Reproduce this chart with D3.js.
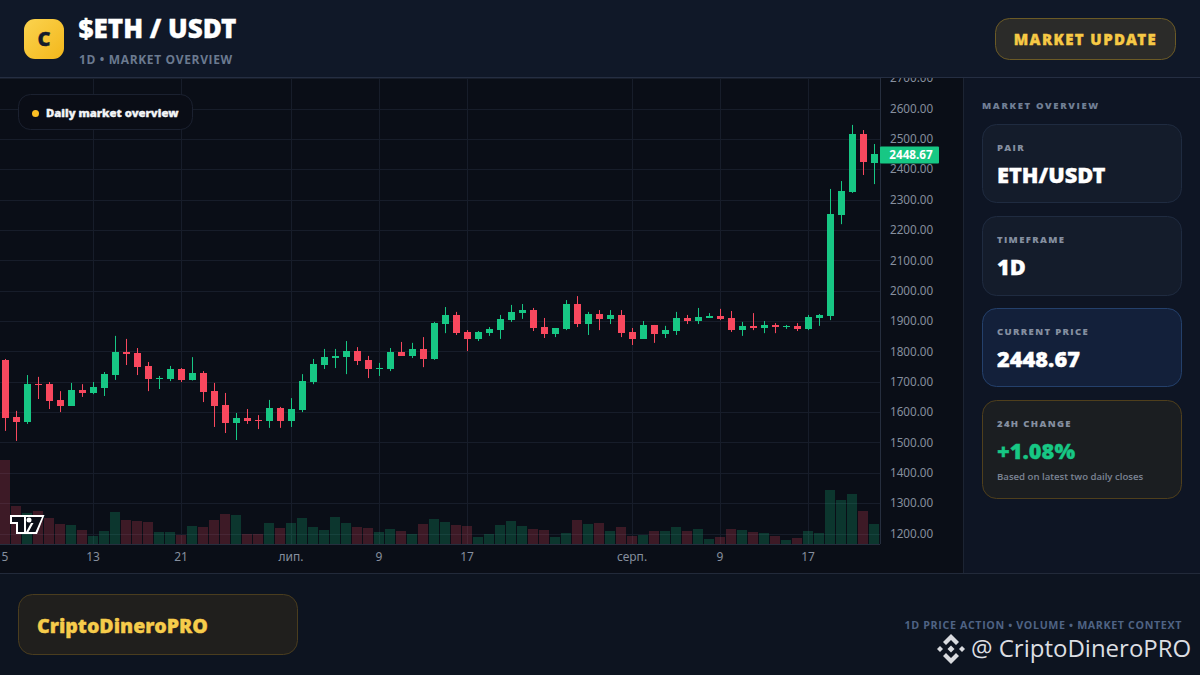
<!DOCTYPE html>
<html>
<head>
<meta charset="utf-8">
<style>
  html, body { margin: 0; padding: 0; background: #0a0e17; overflow: hidden; }
  svg { display: block; }
  text { font-family: "Open Sans", "Noto Sans", sans-serif; }
  .tick-label { font-family: "Noto Sans", sans-serif; }
  .heavy { font-family: "Noto Sans", "Open Sans", sans-serif; font-weight: 900; }
</style>
<script src="https://cdn.jsdelivr.net/npm/d3@7"></script>
</head>
<body>
<div class="viz"></div>
<script>
// Daily candles (5 June .. 23 Aug)
const opens = [1772,1584,1567,1692,1692,1640,1620,1673,1663,1679,1722,1798,1795,1752,1709,1709,1742,1706,1729,1669,1623,1564,1580,1574,1571,1613,1571,1607,1699,1755,1778,1781,1801,1772,1742,1742,1798,1785,1808,1775,1890,1920,1864,1841,1860,1870,1903,1926,1936,1880,1857,1874,1956,1890,1923,1907,1920,1864,1841,1887,1857,1867,1910,1900,1910,1916,1910,1870,1884,1877,1887,1880,1884,1874,1910,1916,2249,2325,2516,2420];
const highs = [1775,1604,1722,1716,1699,1669,1696,1692,1699,1732,1851,1841,1811,1765,1719,1752,1745,1781,1735,1696,1663,1597,1610,1590,1640,1617,1646,1725,1775,1808,1808,1834,1814,1785,1762,1811,1831,1828,1847,1897,1946,1930,1870,1867,1880,1920,1953,1956,1943,1910,1877,1969,1982,1930,1936,1936,1936,1877,1900,1887,1884,1930,1920,1943,1926,1940,1933,1897,1926,1900,1893,1887,1893,1920,1923,2335,2361,2546,2529,2483];
const lows = [1538,1505,1561,1643,1610,1600,1620,1650,1659,1653,1706,1755,1722,1669,1676,1702,1699,1704,1633,1551,1531,1508,1561,1544,1548,1548,1551,1600,1692,1742,1745,1725,1755,1712,1719,1735,1785,1778,1748,1772,1860,1854,1801,1834,1851,1841,1897,1907,1867,1844,1847,1870,1880,1854,1870,1890,1847,1821,1841,1828,1844,1854,1890,1890,1910,1903,1864,1851,1870,1860,1860,1874,1867,1870,1884,1903,2219,2322,2381,2351];
const closes = [1580,1567,1692,1689,1636,1620,1673,1663,1683,1725,1798,1791,1748,1709,1712,1742,1706,1729,1666,1620,1564,1580,1571,1571,1613,1571,1610,1702,1758,1781,1785,1801,1768,1742,1745,1798,1785,1808,1775,1893,1920,1860,1841,1864,1874,1907,1930,1936,1877,1857,1877,1956,1890,1923,1907,1920,1860,1841,1887,1857,1870,1910,1900,1913,1916,1907,1870,1884,1877,1887,1880,1884,1874,1913,1920,2252,2328,2516,2422.6,2448.67];
const volumes = [840,380,310,330,260,200,190,140,80,130,320,240,230,220,120,120,90,180,170,240,300,290,100,100,210,160,210,260,170,140,270,210,170,160,120,150,130,100,200,250,220,190,180,70,100,190,230,180,150,140,70,110,240,200,210,130,170,80,90,130,130,170,130,150,50,70,150,140,120,110,80,40,60,130,110,540,440,500,330,200];

const priceTicks = [1200,1300,1400,1500,1600,1700,1800,1900,2000,2100,2200,2300,2400,2500,2600,2700];
const dateTickIndex = [0,8,16,26,34,42,57,65,73];
const dateTickLabels = ["5","13","21","лип.","9","17","серп.","9","17"];

const pairName = "ETH/USDT";
const timeframe = "1D";
const lastPrice = closes[closes.length - 1];
const prevClose = closes[closes.length - 2];
const changePct = ((lastPrice - prevClose) / prevClose) * 100;

const colors = {
  up: "#17c784",
  down: "#f8485e",
  chartBg: "#0a0e17",
  grid: "#171d2a",
  axisLine: "#262e3e",
  axisText: "#868f9e",
  header: "#101828",
  footer: "#0d1420",
  muted: "#6b7a90",
  gold: "#f6c945",
};

const width = 1200;
const height = 675;
const plot = { left: 0, right: 880, top: 78, bottom: 544, axisBottom: 573 };

const svg = d3
  .select(".viz")
  .append("svg")
  .attr("width", width)
  .attr("height", height);

const defs = svg.append("defs");

const logoGrad = defs
  .append("linearGradient")
  .attr("id", "logoGrad")
  .attr("x1", 0)
  .attr("y1", 0)
  .attr("x2", 1)
  .attr("y2", 1);
logoGrad.append("stop").attr("offset", "0%").attr("stop-color", "#fbd34f");
logoGrad.append("stop").attr("offset", "100%").attr("stop-color", "#f3b71b");

defs
  .append("clipPath")
  .attr("id", "plotClip")
  .append("rect")
  .attr("x", 0)
  .attr("y", plot.top)
  .attr("width", plot.right)
  .attr("height", plot.bottom - plot.top);

// Backgrounds
svg.append("rect").attr("width", width).attr("height", height).attr("fill", colors.chartBg);

// Scales
const xScale = d3.scaleLinear().domain([0, 79]).range([5.5, 874.5]);
const yScale = d3.scaleLinear().domain([1200, 2600]).range([533.5, 108.5]);
const volumeScale = d3.scaleLinear().domain([0, 840]).range([plot.bottom, 460]);

const chart = svg.append("g").attr("clip-path", "url(#plotClip)");

// Grid lines
chart
  .selectAll(".h-grid")
  .data(priceTicks)
  .enter()
  .append("line")
  .attr("x1", plot.left)
  .attr("x2", plot.right)
  .attr("y1", (d) => Math.round(yScale(d)) + 0.5)
  .attr("y2", (d) => Math.round(yScale(d)) + 0.5)
  .attr("stroke", colors.grid);

chart
  .selectAll(".v-grid")
  .data(dateTickIndex.slice(1))
  .enter()
  .append("line")
  .attr("x1", (d) => Math.floor(xScale(d)) + 0.5)
  .attr("x2", (d) => Math.floor(xScale(d)) + 0.5)
  .attr("y1", plot.top)
  .attr("y2", plot.bottom)
  .attr("stroke", colors.grid);

// Volume bars
chart
  .selectAll(".volume")
  .data(volumes)
  .enter()
  .append("rect")
  .attr("x", (d, i) => Math.floor(xScale(i)) - 5)
  .attr("y", (d) => volumeScale(d))
  .attr("width", 10)
  .attr("height", (d) => plot.bottom - volumeScale(d))
  .attr("fill", (d, i) => (closes[i] >= opens[i] ? colors.up : colors.down))
  .attr("fill-opacity", 0.22);

// Candles
const candles = chart
  .selectAll(".candle")
  .data(closes)
  .enter()
  .append("g")
  .attr("fill", (d, i) => (d >= opens[i] ? colors.up : colors.down));

candles
  .append("rect")
  .attr("x", (d, i) => Math.floor(xScale(i)))
  .attr("y", (d, i) => yScale(highs[i]))
  .attr("width", 1)
  .attr("height", (d, i) => yScale(lows[i]) - yScale(highs[i]));

candles
  .append("rect")
  .attr("x", (d, i) => Math.floor(xScale(i)) - 3)
  .attr("y", (d, i) => Math.round(yScale(Math.max(d, opens[i]))))
  .attr("width", 7)
  .attr("height", (d, i) =>
    Math.max(1, Math.round(yScale(Math.min(d, opens[i]))) - Math.round(yScale(Math.max(d, opens[i]))))
  );

// Price axis
const yAxis = d3
  .axisRight(yScale)
  .tickValues(priceTicks)
  .tickSize(0)
  .tickPadding(9.5)
  .tickFormat(d3.format(".2f"));

const yAxisG = svg
  .append("g")
  .attr("transform", `translate(${plot.right}.5,0)`)
  .call(yAxis);
yAxisG.select(".domain").remove();
yAxisG
  .selectAll("text")
  .attr("class", "tick-label")
  .attr("fill", colors.axisText)
  .style("font-size", "11.7px");

svg
  .append("line")
  .attr("x1", plot.right + 0.5)
  .attr("x2", plot.right + 0.5)
  .attr("y1", plot.top)
  .attr("y2", plot.bottom)
  .attr("stroke", colors.axisLine);

// Date axis
const xAxis = d3
  .axisBottom(xScale)
  .tickValues(dateTickIndex)
  .tickSize(0)
  .tickPadding(8)
  .tickFormat((d) => dateTickLabels[dateTickIndex.indexOf(d)]);

const xAxisG = svg
  .append("g")
  .attr("transform", `translate(-1,${plot.bottom})`)
  .call(xAxis);
xAxisG.select(".domain").remove();
xAxisG
  .selectAll("text")
  .attr("class", "tick-label")
  .attr("fill", colors.axisText)
  .style("font-size", "12px");

svg
  .append("line")
  .attr("x1", 0)
  .attr("x2", plot.right)
  .attr("y1", plot.bottom + 0.5)
  .attr("y2", plot.bottom + 0.5)
  .attr("stroke", colors.axisLine);

// Last price tag
svg
  .append("rect")
  .attr("x", plot.right)
  .attr("y", yScale(lastPrice) - 8)
  .attr("width", 59)
  .attr("height", 17)
  .attr("rx", 1)
  .attr("fill", colors.up);

svg
  .append("text")
  .attr("class", "tick-label")
  .attr("x", plot.right + 31)
  .attr("y", yScale(lastPrice) + 4.5)
  .attr("text-anchor", "middle")
  .attr("fill", "#fff")
  .style("font-size", "11.7px")
  .style("font-weight", 700)
  .text(lastPrice.toFixed(2));

// Overview pill on the chart
svg
  .append("rect")
  .attr("x", 18.5)
  .attr("y", 94.5)
  .attr("width", 174)
  .attr("height", 35)
  .attr("rx", 12)
  .attr("fill", "#0a0d16")
  .attr("stroke", "#1b2130");

svg.append("circle").attr("cx", 35.5).attr("cy", 113.5).attr("r", 3.5).attr("fill", "#fbbf24");

svg
  .append("text")
  .attr("class", "heavy")
  .attr("x", 46)
  .attr("y", 117)
  .attr("fill", "#f2f4f7")
  .style("font-size", "11.3px")
  .text("Daily market overview");

// TradingView mark
svg.append("path").attr("fill", "#fff").attr("d", "M10,515H44.5L37,534H16V524H10Z");
svg.append("path").attr("fill", "#0a0e17").attr("d", "M12,517H42L35.5,532H18V522H12Z");
svg.append("path").attr("fill", "#fff").attr("d", "M26,532L31,523H33.5L28.5,532Z");
svg.append("path").attr("fill", "#fff").attr("d", "M24,517H26V532H24Z");
svg.append("circle").attr("cx", 29).attr("cy", 520).attr("r", 2.5).attr("fill", "#fff");

// Header
svg.append("rect").attr("width", width).attr("height", 77).attr("fill", colors.header);
svg
  .append("line")
  .attr("x1", 0)
  .attr("x2", width)
  .attr("y1", 77.5)
  .attr("y2", 77.5)
  .attr("stroke", "#252e42");

svg
  .append("rect")
  .attr("x", 24)
  .attr("y", 19)
  .attr("width", 40)
  .attr("height", 40)
  .attr("rx", 11)
  .attr("fill", "url(#logoGrad)");

svg
  .append("text")
  .attr("class", "heavy")
  .attr("x", 44)
  .attr("y", 46)
  .attr("text-anchor", "middle")
  .attr("fill", "#141b2b")
  .style("font-size", "20px")
  .text("C");

svg
  .append("text")
  .attr("class", "heavy")
  .attr("x", 78.5)
  .attr("y", 38)
  .attr("fill", "#fff")
  .style("font-size", "26px")
  .text(`$${pairName.replace("/", " / ")}`);

svg
  .append("text")
  .attr("x", 79)
  .attr("y", 64)
  .attr("fill", colors.muted)
  .style("font-size", "12px")
  .style("font-weight", 700)
  .style("letter-spacing", "0.65px")
  .text(`${timeframe} • MARKET OVERVIEW`);

svg
  .append("rect")
  .attr("x", 995.5)
  .attr("y", 18.5)
  .attr("width", 180)
  .attr("height", 41)
  .attr("rx", 14)
  .attr("fill", "#2b2b29")
  .attr("stroke", "#6b5a26");

svg
  .append("text")
  .attr("class", "heavy")
  .attr("x", 1085.5)
  .attr("y", 45)
  .attr("text-anchor", "middle")
  .attr("fill", colors.gold)
  .style("font-size", "15px")
  .style("letter-spacing", "1.4px")
  .text("MARKET UPDATE");

// Sidebar
svg
  .append("rect")
  .attr("x", 964)
  .attr("y", 78)
  .attr("width", 236)
  .attr("height", 495)
  .attr("fill", "#0e1524");
svg
  .append("line")
  .attr("x1", 963.5)
  .attr("x2", 963.5)
  .attr("y1", 78)
  .attr("y2", 573)
  .attr("stroke", "#1c2433");

svg
  .append("text")
  .attr("x", 982)
  .attr("y", 109)
  .attr("fill", "#717f95")
  .style("font-size", "9.5px")
  .style("font-weight", 800)
  .style("letter-spacing", "1.65px")
  .text("MARKET OVERVIEW");

const cardTitles = ["PAIR", "TIMEFRAME", "CURRENT PRICE", "24H CHANGE"];
const cardValues = [pairName, timeframe, lastPrice.toFixed(2), `+${changePct.toFixed(2)}%`];
const cardTop = [124, 216, 308, 400];
const cardBottom = [203, 296, 387, 499];
const cardFill = ["#141c2b", "#141c2b", "#13203a", "#1b1e21"];
const cardStroke = ["#1f2b40", "#1f2b40", "#24406b", "#4f3f1c"];
const cardValueColor = ["#fff", "#fff", "#fff", colors.up];

cardTitles.forEach((title, i) => {
  svg
    .append("rect")
    .attr("x", 982.5)
    .attr("y", cardTop[i] + 0.5)
    .attr("width", 199)
    .attr("height", cardBottom[i] - cardTop[i] - 1)
    .attr("rx", 14)
    .attr("fill", cardFill[i])
    .attr("stroke", cardStroke[i]);

  svg
    .append("text")
    .attr("x", 997)
    .attr("y", cardTop[i] + 27)
    .attr("fill", "#858fa0")
    .style("font-size", "9.5px")
    .style("font-weight", 800)
    .style("letter-spacing", "1.35px")
    .text(title);

  svg
    .append("text")
    .attr("class", "heavy")
    .attr("x", 997)
    .attr("y", cardTop[i] + 59)
    .attr("fill", cardValueColor[i])
    .style("font-size", "21.8px")
    .text(cardValues[i]);
});

svg
  .append("text")
  .attr("x", 997)
  .attr("y", 480)
  .attr("fill", "#7c8494")
  .style("font-size", "9.6px")
  .style("font-weight", 600)
  .text("Based on latest two daily closes");

// Footer
svg
  .append("rect")
  .attr("y", 573)
  .attr("width", width)
  .attr("height", 102)
  .attr("fill", colors.footer);
svg
  .append("line")
  .attr("x1", 0)
  .attr("x2", width)
  .attr("y1", 573.5)
  .attr("y2", 573.5)
  .attr("stroke", "#222a3a");

svg
  .append("rect")
  .attr("x", 18.5)
  .attr("y", 594.5)
  .attr("width", 279)
  .attr("height", 60)
  .attr("rx", 14)
  .attr("fill", "#201f1d")
  .attr("stroke", "#4a3d1e");

svg
  .append("text")
  .attr("class", "heavy")
  .attr("x", 37)
  .attr("y", 633)
  .attr("fill", "#f6cc4b")
  .style("font-size", "19.6px")
  .text("CriptoDineroPRO");

svg
  .append("text")
  .attr("x", 1182)
  .attr("y", 629)
  .attr("text-anchor", "end")
  .attr("fill", "#4f6384")
  .style("font-size", "10.7px")
  .style("font-weight", 700)
  .style("letter-spacing", "0.63px")
  .text("1D PRICE ACTION • VOLUME • MARKET CONTEXT");

// Watermark
const mark = svg.append("g").attr("transform", "translate(951,649)").attr("fill", "#d9dbdf");
mark.append("path").attr("d", "M0,-15L8,-7L5,-4L0,-9L-5,-4L-8,-7Z");
mark.append("path").attr("d", "M0,15L8,7L5,4L0,9L-5,4L-8,7Z");
mark.append("path").attr("d", "M-14,0L-11,-3L-8,0L-11,3Z");
mark.append("path").attr("d", "M14,0L11,-3L8,0L11,3Z");
mark.append("path").attr("d", "M0,-3.5L3.5,0L0,3.5L-3.5,0Z");

svg
  .append("text")
  .attr("x", 971)
  .attr("y", 657)
  .attr("fill", "#dcdee2")
  .style("font-size", "24px")
  .style("font-weight", 400)
  .text("@ CriptoDineroPRO");

// The heavy labels need a little more weight than the font's boldest cut
svg.selectAll(".heavy").each(function () {
  d3.select(this).attr("stroke", d3.select(this).attr("fill")).attr("stroke-width", 0.35);
});
</script>
</body>
</html>
